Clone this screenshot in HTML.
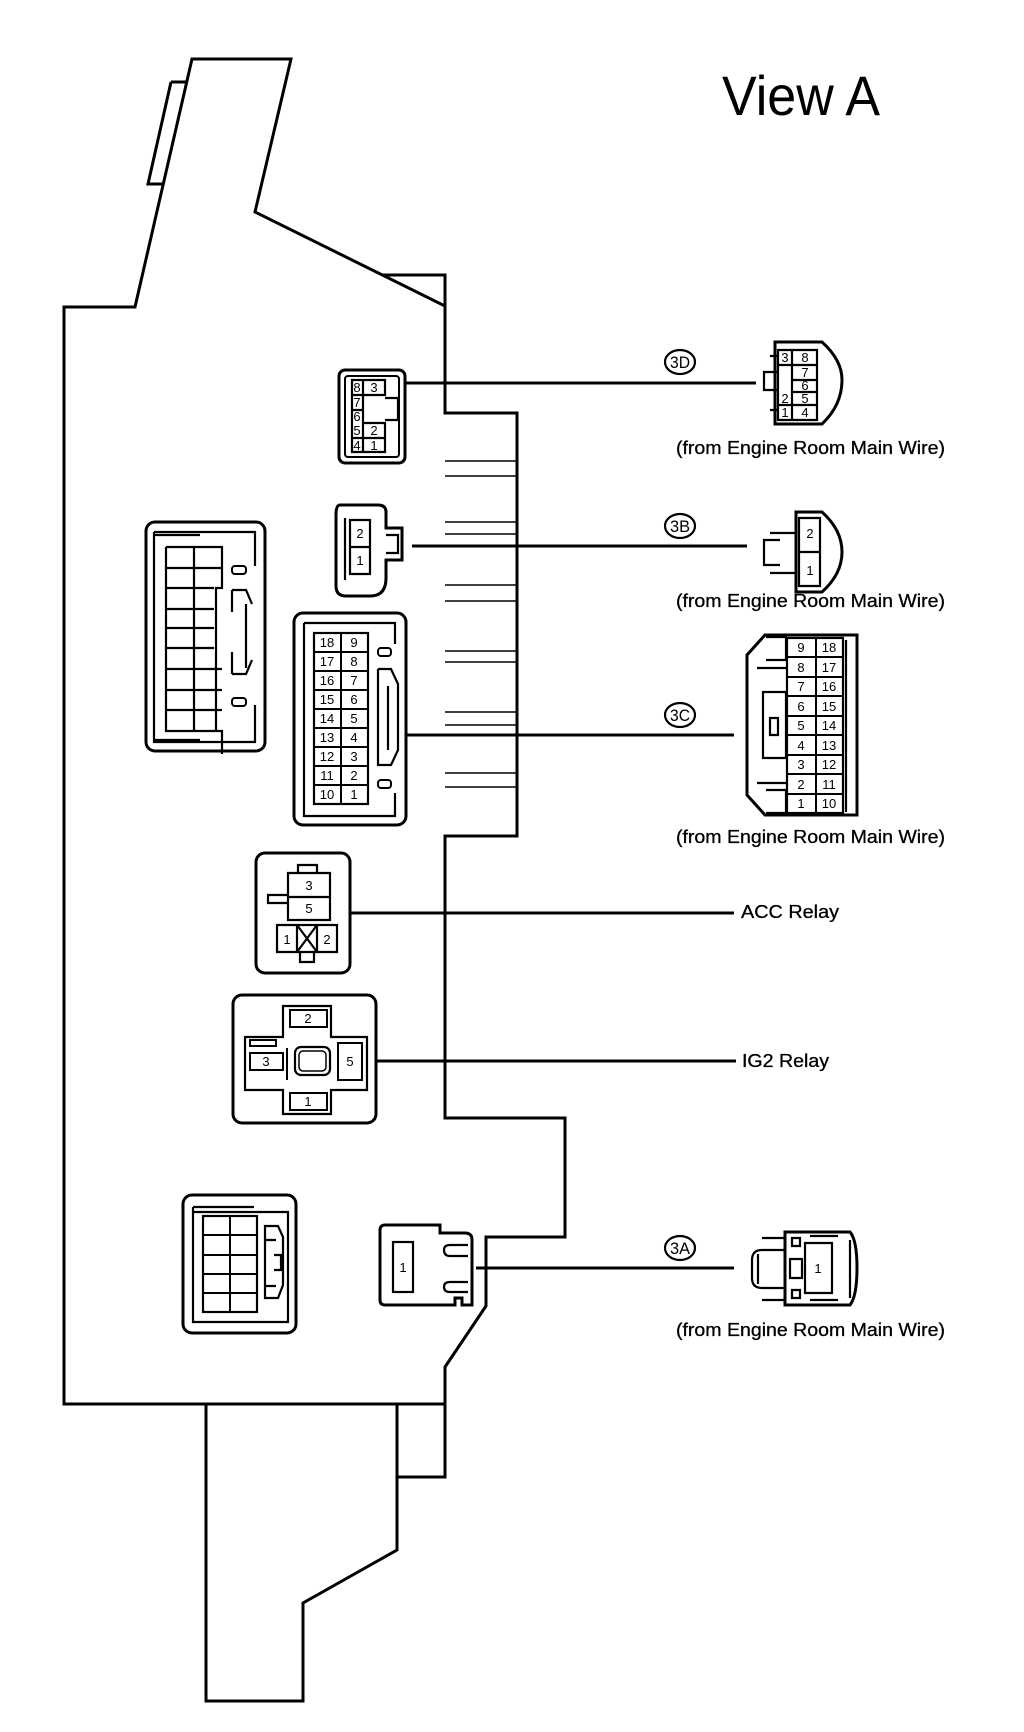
<!DOCTYPE html>
<html><head><meta charset="utf-8"><style>
html,body{margin:0;padding:0;background:#fff;}
svg{display:block}
text{font-family:"Liberation Sans",sans-serif;fill:#000}
</style></head><body>
<svg width="1024" height="1732" viewBox="0 0 1024 1732" xmlns="http://www.w3.org/2000/svg">
<g fill="none" stroke="#000" stroke-width="3" stroke-linejoin="miter">
<path d="M64,307 L135,307 L192,59 L291,59 L255,212 L445,306 L445,413 L517,413 L517,836 L445,836 L445,1118 L565,1118 L565,1237 L486,1237 L486,1306 L445,1367 L445,1404 L64,1404 Z"/>
<path d="M383,275 L445,275 L445,306"/>
<path d="M171,82 L187,82 M171,82 L148,184 L164,184"/>
<path d="M206,1404 L206,1701 L303,1701 L303,1603 L397,1550 L397,1404"/>
<path d="M397,1404 L397,1477 L445,1477 L445,1404"/>
<path stroke-width="1.6" d="M445,461 H517 M445,476 H517 M445,522 H517 M445,534 H517 M445,585 H517 M445,601 H517 M445,651 H517 M445,662 H517 M445,712 H517 M445,725 H517 M445,773 H517 M445,787 H517"/>

<rect x="339" y="370" width="66" height="93" rx="6"/>
<rect x="345" y="376" width="54" height="81" rx="3" stroke-width="2"/>
<path stroke-width="2.2" d="M352,380 H385 V395 H363 V423 H385 V452 H352 Z M363,380 V452 M352,395 H363 M352,410 H363 M352,438 H385 M385,398 H398 V420 H385"/>
<line x1="405" y1="383" x2="756" y2="383"/>
<ellipse cx="680" cy="362" rx="15" ry="12" stroke-width="2.2"/>
<path d="M775,342 H822 Q842,360 842,380 Q842,405 822,424 H775 Z"/>
<path stroke-width="2.2" d="M778,350 H817 V420 H778 Z M792,350 V420 M778,365 H817 M792,380 H817 M792,392 H817 M778,405 H817 M778,372 H764 V390 H778 M770,356 H778 M770,410 H778"/>

<path d="M340,505 H378 Q386,505 386,512 V528 H402 V560 H386 V578 Q386,596 370,596 H346 Q336,596 336,586 V515 Q336,505 340,505 Z"/>
<path stroke-width="2.2" d="M350,520 H370 V574 H350 Z M350,547 H370 M345,518 V580 M386,535 H398 V553 H386"/>
<line x1="412" y1="546" x2="747" y2="546"/>
<ellipse cx="680" cy="526" rx="15" ry="12" stroke-width="2.2"/>
<path d="M796,512 H822 Q842,530 842,552 Q842,574 822,592 H796 Z"/>
<path stroke-width="2.2" d="M799,518 H820 V586 H799 Z M799,552 H820 M796,533 H770 M796,573 H770 M780,540 H764 V565 H780"/>

<rect x="146" y="522" width="119" height="229" rx="9"/>
<path stroke-width="2.2" d="M154,532 H255 V566 M154,532 V742 H255 V705 M200,535 H154 M200,740 H154"/>
<path stroke-width="2.2" d="M166,547 H222 V588 H216 V731 H222 V754 M166,547 V731 H222 M166,568 H222 M166,588 H214 M166,609 H214 M166,628 H214 M166,648 H214 M166,669 H222 M166,690 H222 M166,710 H222 M194,547 V731"/>
<rect x="232" y="566" width="14" height="8" rx="3" stroke-width="2"/>
<rect x="232" y="698" width="14" height="8" rx="3" stroke-width="2"/>
<path stroke-width="2.2" d="M232,590 H246 L252,604 M232,590 V612 M232,674 H246 L252,660 M232,674 V652 M246,604 V668"/>

<rect x="294" y="613" width="112" height="212" rx="9"/>
<path stroke-width="2.2" d="M304,623 H395 V644 M304,623 V816 H395 V793"/>
<rect x="314" y="633" width="54" height="171" stroke-width="2.2"/>
<path stroke-width="2" d="M341,633 V804 M314,652 H368 M314,671 H368 M314,690 H368 M314,709 H368 M314,728 H368 M314,747 H368 M314,766 H368 M314,785 H368"/>
<rect x="378" y="648" width="13" height="8" rx="3" stroke-width="2"/>
<rect x="378" y="780" width="13" height="8" rx="3" stroke-width="2"/>
<path stroke-width="2.2" d="M378,669 H391 L398,684 V750 L391,765 H378 V669 M378,765 V746 M388,686 V750"/>
<line x1="406" y1="735" x2="734" y2="735"/>
<ellipse cx="680" cy="715" rx="15" ry="12" stroke-width="2.2"/>
<path d="M765,635 H857 V815 H765 L747,795 V655 Z"/>
<path stroke-width="2.2" d="M766,637 H786 V660 H766 M766,813 H786 V790 H766 M757,668 H786 M757,783 H786 M763,692 V758 H786 V692 Z M770,718 H778 V735 H770 Z M846,640 V812"/>
<rect x="787" y="638" width="56" height="175" stroke-width="2.2"/>
<path stroke-width="2" d="M816,638 V813 M787,657 H843 M787,677 H843 M787,696 H843 M787,716 H843 M787,735 H843 M787,755 H843 M787,774 H843 M787,794 H843"/>

<rect x="256" y="853" width="94" height="120" rx="9"/>
<path stroke-width="2.2" d="M288,873 H330 V920 H288 Z M288,897 H330 M277,925 H337 V952 H277 Z M297,925 V952 M317,925 V952 M297,925 L317,952 M317,925 L297,952 M298,873 V865 H317 V873 M268,895 H288 V903 H268 Z M300,952 V962 H314 V952"/>
<line x1="350" y1="913" x2="734" y2="913"/>

<rect x="233" y="995" width="143" height="128" rx="9"/>
<path stroke-width="2.2" d="M283,1006 H331 V1037 H367 V1090 H331 V1114 H283 V1090 H245 V1037 H283 Z"/>
<path stroke-width="2" d="M290,1010 H327 V1027 H290 Z M290,1093 H327 V1110 H290 Z M250,1053 H283 V1070 H250 Z M338,1043 H362 V1080 H338 Z M250,1040 H276 V1046 H250 Z M287,1048 V1080"/>
<rect x="295" y="1047" width="35" height="28" rx="6" stroke-width="2.2"/>
<rect x="299" y="1051" width="27" height="20" rx="4" stroke-width="1.5"/>
<line x1="376" y1="1061" x2="736" y2="1061"/>

<rect x="183" y="1195" width="113" height="138" rx="9"/>
<path stroke-width="2.2" d="M193,1207 H254 M193,1207 V1322 H254 M193,1212 H288 V1322 H254"/>
<rect x="203" y="1216" width="54" height="96" stroke-width="2.2"/>
<path stroke-width="2" d="M230,1216 V1312 M203,1235 H257 M203,1255 H257 M203,1274 H257 M203,1293 H257"/>
<path stroke-width="2.2" d="M265,1226 H278 L283,1237 V1285 L278,1298 H265 Z M265,1240 H276 M265,1286 H276 M274,1255 H281 V1270 H274"/>

<path d="M385,1225 H440 V1233 H465 Q472,1233 472,1240 V1305 H462 V1298 H455 V1305 H385 Q380,1305 380,1300 V1230 Q380,1225 385,1225 Z"/>
<rect x="393" y="1242" width="20" height="50" stroke-width="2.2"/>
<path stroke-width="2.2" d="M468,1245 H450 Q444,1245 444,1250 Q444,1256 450,1256 H468 M468,1282 H450 Q444,1282 444,1287 Q444,1292 450,1292 H468"/>
<line x1="476" y1="1268" x2="734" y2="1268"/>
<ellipse cx="680" cy="1248" rx="15" ry="12" stroke-width="2.2"/>
<path d="M785,1232 H850 Q857,1240 857,1268 Q857,1296 850,1305 H785 Z"/>
<path stroke-width="2.2" d="M785,1250 H762 Q752,1250 752,1260 V1278 Q752,1288 762,1288 H785 M758,1254 V1284 M762,1238 H785 M762,1300 H785 M792,1238 H800 V1246 H792 Z M792,1290 H800 V1298 H792 Z M805,1243 H832 V1293 H805 Z M790,1259 H802 V1278 H790 Z M810,1300 H838 M810,1236 H838 M850,1240 V1298"/>
</g>

<text x="722" y="115" font-size="56" textLength="158" lengthAdjust="spacingAndGlyphs">View A</text>
<g font-size="17" text-anchor="middle">
<text x="680" y="368" textLength="20" lengthAdjust="spacingAndGlyphs">3D</text>
<text x="680" y="532" textLength="20" lengthAdjust="spacingAndGlyphs">3B</text>
<text x="680" y="721" textLength="20" lengthAdjust="spacingAndGlyphs">3C</text>
<text x="680" y="1254" textLength="20" lengthAdjust="spacingAndGlyphs">3A</text>
</g>
<g font-size="18" stroke="#000" stroke-width="0.3">
<text x="676" y="454" textLength="269" lengthAdjust="spacingAndGlyphs">(from Engine Room Main Wire)</text>
<text x="676" y="607" textLength="269" lengthAdjust="spacingAndGlyphs">(from Engine Room Main Wire)</text>
<text x="676" y="843" textLength="269" lengthAdjust="spacingAndGlyphs">(from Engine Room Main Wire)</text>
<text x="676" y="1336" textLength="269" lengthAdjust="spacingAndGlyphs">(from Engine Room Main Wire)</text>
<text x="741" y="918" textLength="98" lengthAdjust="spacingAndGlyphs">ACC Relay</text>
<text x="742" y="1067" textLength="87" lengthAdjust="spacingAndGlyphs">IG2 Relay</text>
</g>
<g font-size="13" text-anchor="middle">
<text x="357" y="392">8</text><text x="374" y="392">3</text>
<text x="357" y="407">7</text><text x="357" y="421">6</text>
<text x="357" y="435">5</text><text x="374" y="435">2</text>
<text x="357" y="450">4</text><text x="374" y="450">1</text>
<text x="785" y="362">3</text><text x="805" y="362">8</text>
<text x="805" y="377">7</text><text x="805" y="390">6</text>
<text x="785" y="403">2</text><text x="805" y="403">5</text>
<text x="785" y="417">1</text><text x="805" y="417">4</text>
<text x="360" y="538">2</text><text x="360" y="565">1</text>
<text x="810" y="538">2</text><text x="810" y="575">1</text>
<text x="327" y="647">18</text><text x="354" y="647">9</text>
<text x="327" y="666">17</text><text x="354" y="666">8</text>
<text x="327" y="685">16</text><text x="354" y="685">7</text>
<text x="327" y="704">15</text><text x="354" y="704">6</text>
<text x="327" y="723">14</text><text x="354" y="723">5</text>
<text x="327" y="742">13</text><text x="354" y="742">4</text>
<text x="327" y="761">12</text><text x="354" y="761">3</text>
<text x="327" y="780">11</text><text x="354" y="780">2</text>
<text x="327" y="799">10</text><text x="354" y="799">1</text>
<text x="801" y="652">9</text><text x="829" y="652">18</text>
<text x="801" y="672">8</text><text x="829" y="672">17</text>
<text x="801" y="691">7</text><text x="829" y="691">16</text>
<text x="801" y="711">6</text><text x="829" y="711">15</text>
<text x="801" y="730">5</text><text x="829" y="730">14</text>
<text x="801" y="750">4</text><text x="829" y="750">13</text>
<text x="801" y="769">3</text><text x="829" y="769">12</text>
<text x="801" y="789">2</text><text x="829" y="789">11</text>
<text x="801" y="808">1</text><text x="829" y="808">10</text>
<text x="309" y="890">3</text><text x="309" y="913">5</text>
<text x="287" y="944">1</text><text x="327" y="944">2</text>
<text x="308" y="1023">2</text><text x="308" y="1106">1</text>
<text x="266" y="1066">3</text><text x="350" y="1066">5</text>
<text x="403" y="1272">1</text><text x="818" y="1273">1</text>
</g>
</svg>
</body></html>
